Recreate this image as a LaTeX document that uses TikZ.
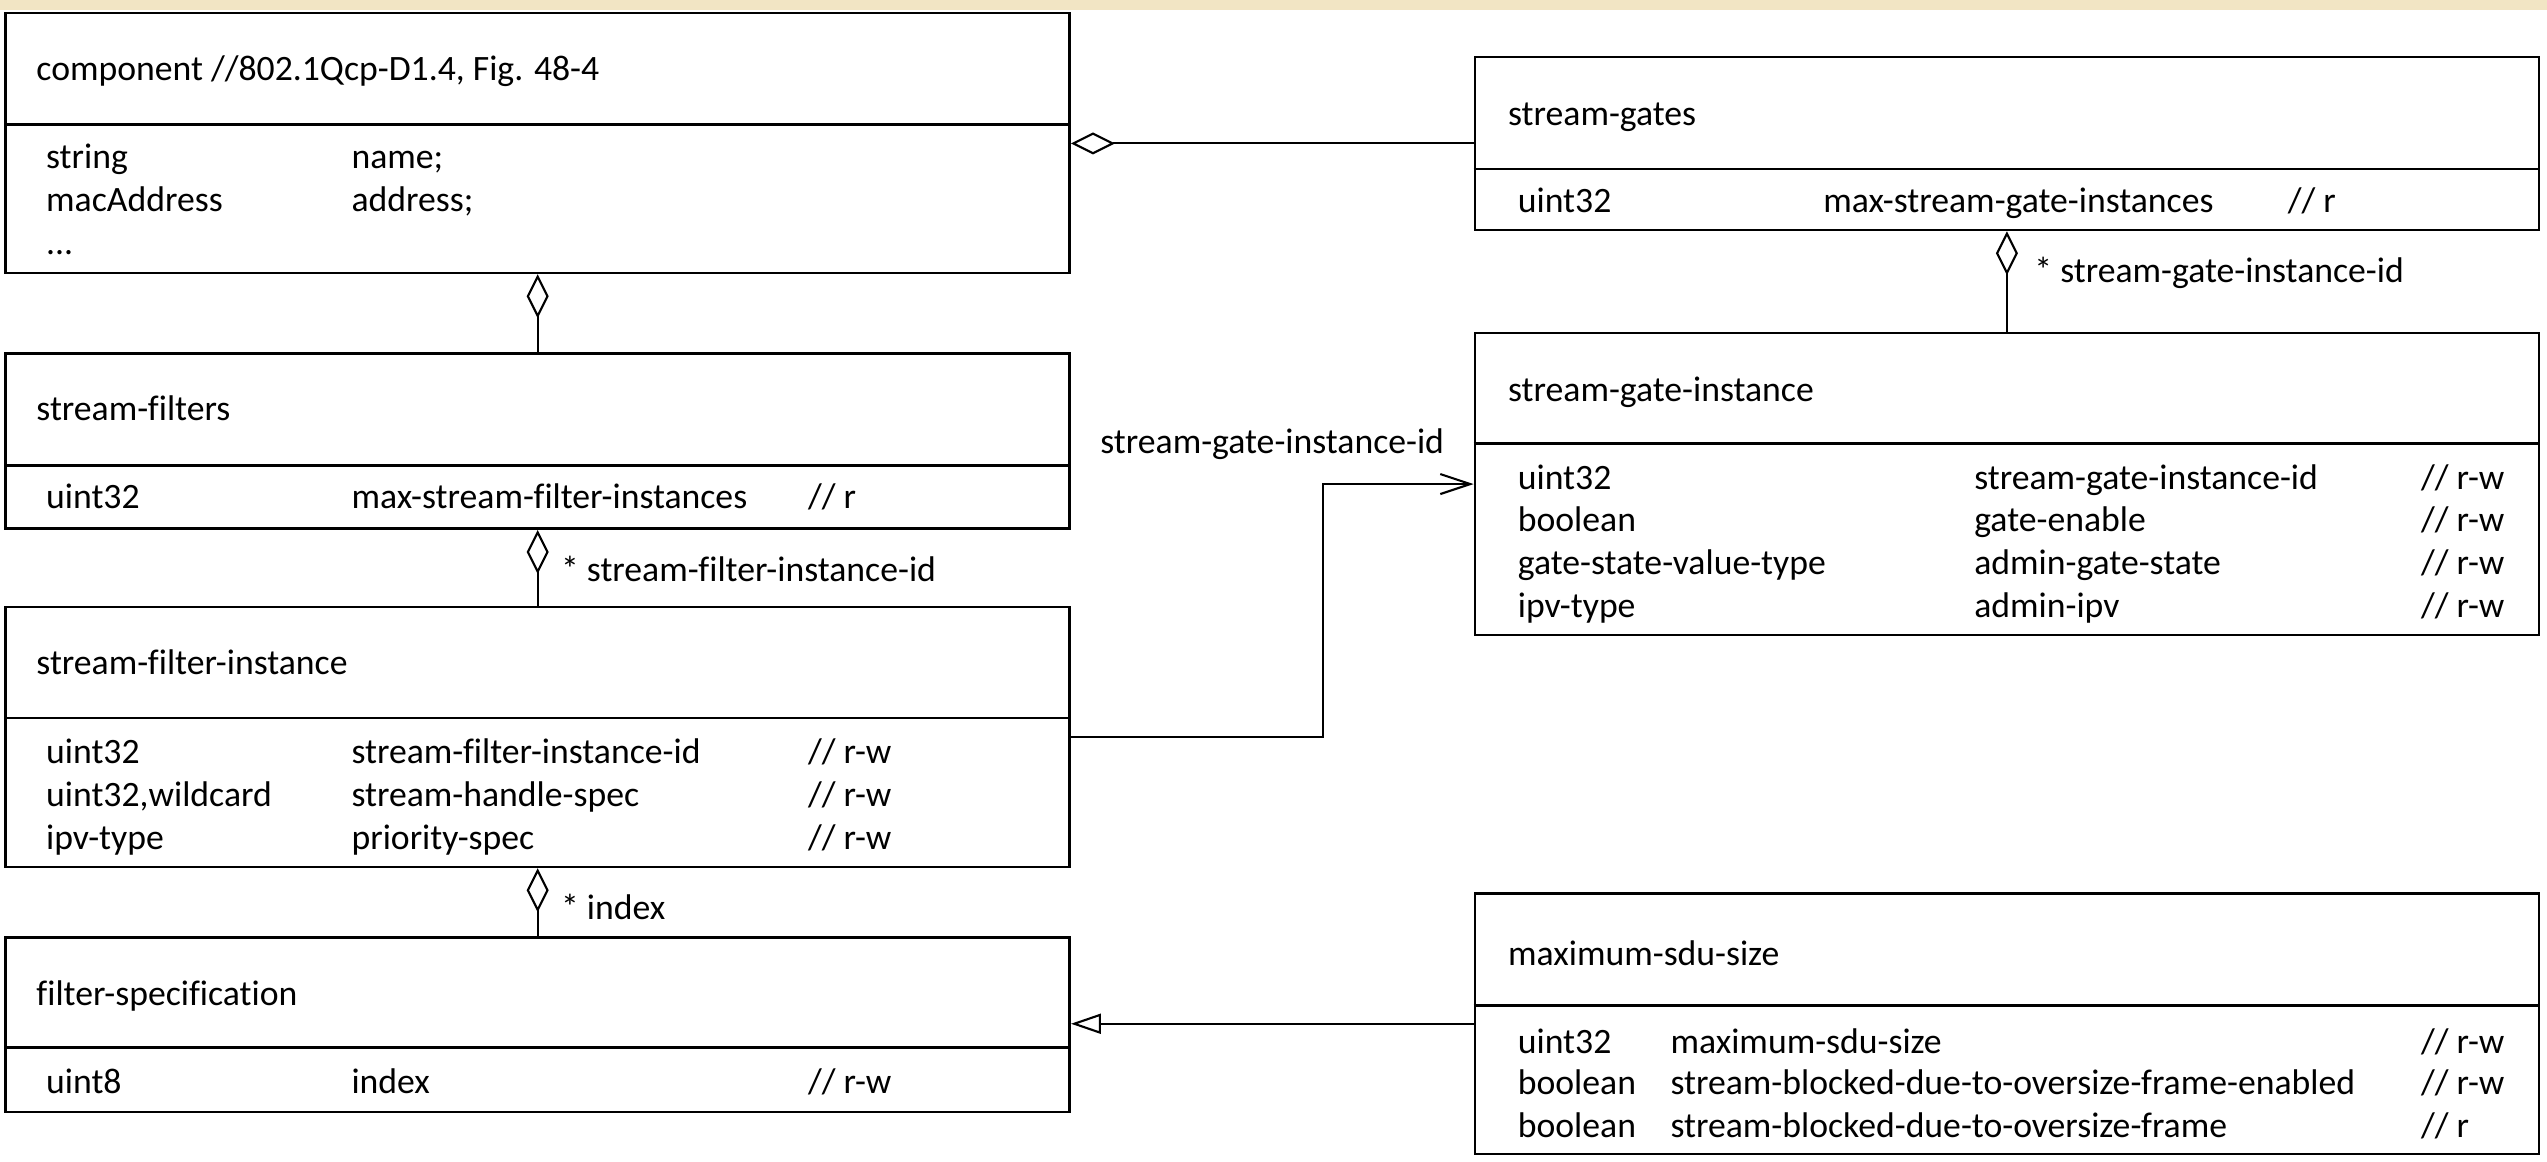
\documentclass[tikz,border=0pt]{standalone}
\usepackage{fontspec}
\setmainfont{Carlito}[Ligatures=CommonOff]
\usetikzlibrary{arrows.meta}
\definecolor{bandbeige}{RGB}{242,229,196}
\newcommand\mkbox[6]{%
  \node[classbox, minimum width={(#6-#5)*0.016244cm}, minimum height={(#4-#2)*0.016244cm}] (#1) at ({(#5+#6)/2},{(#2+#4)/2}) {};
  \draw[divline] (#1.west |- 0,#3) -- (#1.east |- 0,#3);
}
\begin{document}
\begin{tikzpicture}[x=0.016244cm, y=-0.016244cm,
  every node/.style={font=\fontsize{10.16pt}{12pt}\selectfont},
  classbox/.style={draw, line width=0.75pt, inner sep=0pt, rectangle},
  txt/.style={anchor=west, inner sep=0pt, text height=0.23cm, text depth=0pt},
  divline/.style={line width=0.75pt},
  conn/.style={line width=0.6pt},
  agg/.style={conn, {Diamond[open, length=0.44cm, width=0.22cm]}-},
  gen/.style={conn, -{Triangle[open, length=0.30cm, width=0.20cm]}},
  nav/.style={conn, -{Straight Barb[length=0.30cm, width=0.20cm]}},
]
\fill[white] (0,0) rectangle (1568,715);
\fill[bandbeige] (0,0) rectangle (1568,6.2);
\useasboundingbox (0,0) rectangle (1568,715);

% boxes
\mkbox{comp}{8}{76.5}{168}{3.5}{658.5}
\mkbox{gates}{35}{104}{141.6}{908}{1563}
\mkbox{sgi}{205}{273}{391}{908}{1563}
\mkbox{filters}{217.5}{286.5}{325.5}{3.5}{658.5}
\mkbox{sfi}{373.6}{442}{533.7}{3.5}{658.5}
\mkbox{fs}{577}{645}{684.6}{3.5}{658.5}
\mkbox{msdu}{550}{619}{710.5}{908}{1563}

% component
\node[txt] (compT) at (22,42.5) {component //802.1Qcp-D1.4, Fig. 48-4};
\node[txt] (compA1) at (28,96.5) {string};
\node[txt] (compB1) at (216,96.5) {name;};
\node[txt] (compA2) at (28,123) {macAddress};
\node[txt] (compB2) at (216,123) {address;};
\node[txt] (compA3) at (28,149.5) {...};

% stream-gates
\node[txt] (gatesT) at (928,70) {stream-gates};
\node[txt] (gatesA1) at (934,124) {uint32};
\node[txt] (gatesB1) at (1122,124) {max-stream-gate-instances};
\node[txt] (gatesC1) at (1408,124) {// r};

% stream-gate-instance
\node[txt] (sgiT) at (928,240) {stream-gate-instance};
\node[txt] (sgiA1) at (934,294) {uint32};
\node[txt] (sgiB1) at (1215,294) {stream-gate-instance-id};
\node[txt] (sgiC1) at (1490,294) {// r-w};
\node[txt] (sgiA2) at (934,320) {boolean};
\node[txt] (sgiB2) at (1215,320) {gate-enable};
\node[txt] (sgiC2) at (1490,320) {// r-w};
\node[txt] (sgiA3) at (934,346.5) {gate-state-value-type};
\node[txt] (sgiB3) at (1215,346.5) {admin-gate-state};
\node[txt] (sgiC3) at (1490,346.5) {// r-w};
\node[txt] (sgiA4) at (934,373) {ipv-type};
\node[txt] (sgiB4) at (1215,373) {admin-ipv};
\node[txt] (sgiC4) at (1490,373) {// r-w};

% stream-filters
\node[txt] (filtersT) at (22,252) {stream-filters};
\node[txt] (filtersA1) at (28,306) {uint32};
\node[txt] (filtersB1) at (216,306) {max-stream-filter-instances};
\node[txt] (filtersC1) at (497,306) {// r};

% stream-filter-instance
\node[txt] (sfiT) at (22,408) {stream-filter-instance};
\node[txt] (sfiA1) at (28,463) {uint32};
\node[txt] (sfiB1) at (216,463) {stream-filter-instance-id};
\node[txt] (sfiC1) at (497,463) {// r-w};
\node[txt] (sfiA2) at (28,489.5) {uint32,wildcard};
\node[txt] (sfiB2) at (216,489.5) {stream-handle-spec};
\node[txt] (sfiC2) at (497,489.5) {// r-w};
\node[txt] (sfiA3) at (28,516) {ipv-type};
\node[txt] (sfiB3) at (216,516) {priority-spec};
\node[txt] (sfiC3) at (497,516) {// r-w};

% filter-specification
\node[txt] (fsT) at (22,612) {filter-specification};
\node[txt] (fsA1) at (28,666) {uint8};
\node[txt] (fsB1) at (216,666) {index};
\node[txt] (fsC1) at (497,666) {// r-w};

% maximum-sdu-size
\node[txt] (msduT) at (928,587) {maximum-sdu-size};
\node[txt] (msduA1) at (934,641.5) {uint32};
\node[txt] (msduB1) at (1028,641.5) {maximum-sdu-size};
\node[txt] (msduC1) at (1490,641.5) {// r-w};
\node[txt] (msduA2) at (934,667) {boolean};
\node[txt] (msduB2) at (1028,667) {stream-blocked-due-to-oversize-frame-enabled};
\node[txt] (msduC2) at (1490,667) {// r-w};
\node[txt] (msduA3) at (934,693) {boolean};
\node[txt] (msduB3) at (1028,693) {stream-blocked-due-to-oversize-frame};
\node[txt] (msduC3) at (1490,693) {// r};

% connectors
\draw[agg] (gates.west -| comp.east) -- (gates.west);
\draw[agg] (comp.south) -- (filters.north);
\draw[agg] (gates.south) -- (sgi.north);
\draw[agg] (filters.south) -- (sfi.north);
\draw[agg] (sfi.south) -- (fs.north);
\coordinate (bend) at (814.5,0);
\draw[nav] (sfi.east) -| (bend |- sgi.west) -- (sgi.west);
\draw[gen] (msdu.west) -- (msdu.west -| fs.east);

% connector labels
\node[txt] (lblGate) at (1252,167) {* stream-gate-instance-id};
\node[txt] (lblFilt) at (345,351) {* stream-filter-instance-id};
\node[txt] (lblIdx) at (345,559) {* index};
\node[txt] (lblNav) at (677,272) {stream-gate-instance-id};
\end{tikzpicture}
\end{document}
